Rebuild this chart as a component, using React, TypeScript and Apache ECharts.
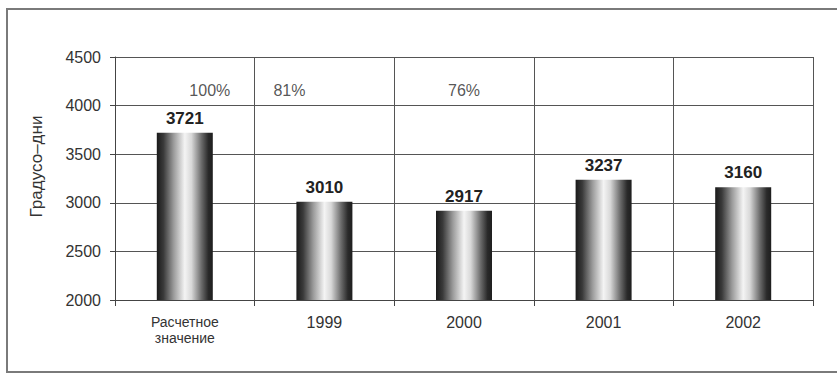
import React, { useEffect, useRef } from "react";
import * as echarts from "echarts";

const categories = ["Расчетное\nзначение", "1999", "2000", "2001", "2002"];
const values = [3721, 3010, 2917, 3237, 3160];
const percentLabels = ["100%", "81%", "76%"];
const percentLevel = 4160;
const yTicks = { min: 2000, max: 4500, interval: 500 };
const yName = "Градусо–дни";

const FONT = "'Liberation Sans', Arial, sans-serif";

export default function App() {
  const ref = useRef<HTMLDivElement>(null);
  useEffect(() => {
    document.body.style.margin = "0";
    if (!ref.current) return;
    const chart = echarts.init(ref.current, null, { renderer: "svg" });
    const barGradient = new echarts.graphic.LinearGradient(0, 0, 1, 0, [
      { offset: 0, color: "#1a1a1a" },
      { offset: 0.12, color: "#3a3a3a" },
      { offset: 0.3, color: "#9a9a9a" },
      { offset: 0.5, color: "#f4f4f4" },
      { offset: 0.62, color: "#d8d8d8" },
      { offset: 0.8, color: "#6a6a6a" },
      { offset: 0.92, color: "#2a2a2a" },
      { offset: 1, color: "#1e1e1e" },
    ]);
    const percentOffsets = [25, -35, 0];
    chart.setOption({
      animation: false,
      backgroundColor: "#ffffff",
      textStyle: { fontFamily: FONT },
      graphic: [
        {
          type: "rect",
          shape: { x: 7, y: 9, width: 850, height: 363 },
          style: { fill: "none", stroke: "#7a7a7a", lineWidth: 2 },
          silent: true,
        },
      ],
      grid: { left: 115, top: 57, right: 24, bottom: 76 },
      xAxis: {
        type: "category",
        data: categories.map((c, i) =>
          i === 0
            ? { value: c, textStyle: { fontSize: 14, lineHeight: 16 } }
            : c
        ),
        boundaryGap: true,
        axisLine: { show: true, lineStyle: { color: "#444", width: 1 } },
        axisTick: { show: true, length: 6, alignWithLabel: false, lineStyle: { color: "#444" } },
        splitLine: { show: true, interval: 0, lineStyle: { color: "#555", width: 1 } },
        axisLabel: {
          fontSize: 16,
          color: "#333",
          margin: 14,
          fontFamily: FONT,
          lineHeight: 16,
          interval: 0,
        },
      },
      yAxis: {
        type: "value",
        min: yTicks.min,
        max: yTicks.max,
        interval: yTicks.interval,
        name: yName,
        nameLocation: "middle",
        nameRotate: 90,
        nameGap: 70,
        nameTextStyle: { fontSize: 17, color: "#333", fontFamily: FONT, padding: [0, 0, 0, 24] },
        axisLine: { show: true, lineStyle: { color: "#444", width: 1 } },
        axisTick: { show: true, length: 5, lineStyle: { color: "#444" } },
        splitLine: { show: true, lineStyle: { color: "#555", width: 1 } },
        axisLabel: {
          fontSize: 16,
          color: "#333",
          margin: 14,
          fontFamily: FONT,
          formatter: (v: number) => String(v),
        },
      },
      series: [
        {
          type: "bar",
          data: values,
          barWidth: 56,
          itemStyle: { color: barGradient },
          label: {
            show: true,
            position: "top",
            distance: 6,
            fontSize: 17,
            fontWeight: "bold",
            color: "#222",
            fontFamily: FONT,
          },
        },
        {
          type: "scatter",
          symbolSize: 0,
          silent: true,
          data: percentLabels.map((p, i) => ({
            value: [i, percentLevel],
            label: {
              show: true,
              formatter: p,
              position: "inside",
              offset: [percentOffsets[i], 0],
              fontSize: 16,
              color: "#2a2a2a",
              fontFamily: FONT,
            },
          })),
        },
      ],
    });
    return () => chart.dispose();
  }, []);
  return <div ref={ref} style={{ width: 837, height: 376 }} />;
}
